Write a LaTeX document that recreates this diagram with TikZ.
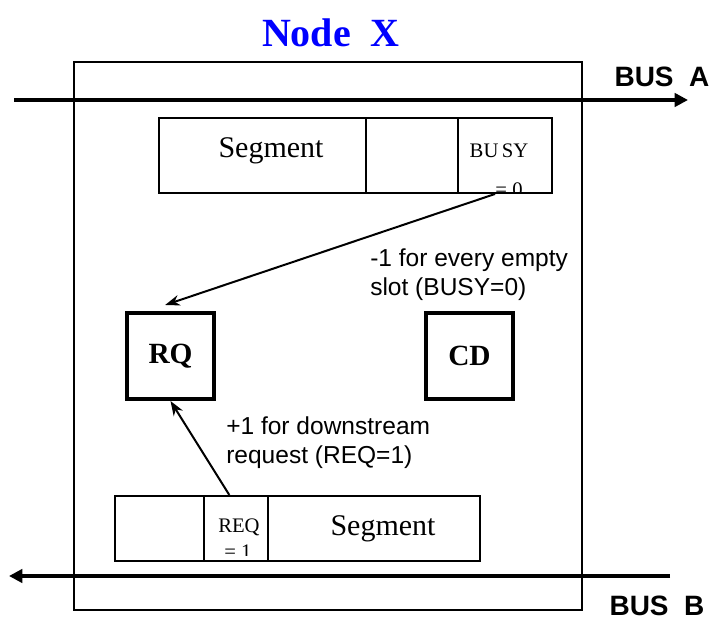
\documentclass[tikz,border=0pt]{standalone}
\usepackage{fontspec}
\setmainfont{Liberation Serif}
\setsansfont{Liberation Sans}
\usetikzlibrary{arrows.meta, positioning}

\begin{document}
\begin{tikzpicture}[
  x=0.75pt, y=-0.75pt,
  frame/.style={rectangle, draw, line width=1.1pt, minimum width=381pt, minimum height=411pt},
  cell/.style={rectangle, draw, line width=1.5pt, inner sep=0pt},
  queue/.style={rectangle, draw, line width=3pt, minimum width=65.25pt, minimum height=64.5pt, font=\fontsize{22}{26}\selectfont\bfseries},
  segtxt/.style={anchor=base, inner sep=0pt, font=\fontsize{22.5}{26}\selectfont},
  flagtxt/.style={anchor=base, inner sep=0pt, font=\fontsize{15.5}{18}\selectfont},
  bus/.style={line width=3pt, -{Triangle[length=10pt,width=10pt]}},
  arr/.style={-{Stealth[length=11pt,width=8pt]}, line width=1.5pt},
  busname/.style={font=\sffamily\bfseries\fontsize{21}{24}\selectfont},
  lbl/.style={font=\sffamily\fontsize{18.4}{21.75}\selectfont, align=left, anchor=west, inner sep=0pt},
]
\useasboundingbox (0,0) rectangle (714,623);

% node frame and title
\node[frame] (nodex) at (328,336) {};
\node[font=\fontsize{30}{34}\selectfont\bfseries, text={rgb,255:red,0;green,0;blue,255}] (title) at (331,33) {Node\ \ X};

% buses
\coordinate (busAin)  at (14,100);
\coordinate (busAout) at (688,100);
\coordinate (busBin)  at (670,576);
\coordinate (busBout) at (9,576);
\draw[bus] (busAin) -- (busAout);
\draw[bus] (busBin) -- (busBout);
\node[busname] (busA) at (662,77)  {BUS\ \ A};
\node[busname] (busB) at (657,606) {BUS\ \ B};

% slot on bus A
\node[cell, minimum width=155.25pt, minimum height=56.25pt] (topseg) at (262.5,155.5) {};
\node[cell, minimum width=69pt,     minimum height=56.25pt] (topgap) at (412,155.5) {};
\node[cell, minimum width=70.5pt,   minimum height=56.25pt] (busy)   at (505,155.5) {};
\node[segtxt] (topsegtxt) at (271,158) {Segment};
\node[flagtxt] (busytxt) at (499,158) {BU\,SY};
\begin{scope}
  \clip (busy.north west) rectangle ([yshift=1pt]busy.south east);
  \node[flagtxt] (busyval) at (509,197) {= 0};
\end{scope}

% slot on bus B
\node[cell, minimum width=66.75pt, minimum height=48.75pt] (botgap) at (159.5,528.5) {};
\node[cell, minimum width=48pt,    minimum height=48.75pt] (req)    at (236,528.5) {};
\node[cell, minimum width=159pt,   minimum height=48.75pt] (botseg) at (374,528.5) {};
\node[segtxt] (botsegtxt) at (383,535) {Segment};
\node[flagtxt] (reqtxt) at (239,532) {REQ};
\begin{scope}
  \clip (req.north west) rectangle ([yshift=5pt]req.south east);
  \node[flagtxt] (reqval) at (238,558) {= 1};
\end{scope}

% counters
\node[queue] (rq) at (170.5,356) {RQ};
\node[queue] (cd) at (469.5,356) {CD};

\draw[arr] ([xshift=-7.5pt]busy.south) -- ([xshift=-4pt,yshift=4.5pt]rq.north);
\draw[arr] ([xshift=-5pt]req.north) -- (rq.south);

\node[lbl] (minuslbl) at (370,275) {-1 for every empty\\slot (BUSY=0)};
\node[lbl] (pluslbl)  at (226,443) {+1 for downstream\\request (REQ=1)};
\end{tikzpicture}
\end{document}
